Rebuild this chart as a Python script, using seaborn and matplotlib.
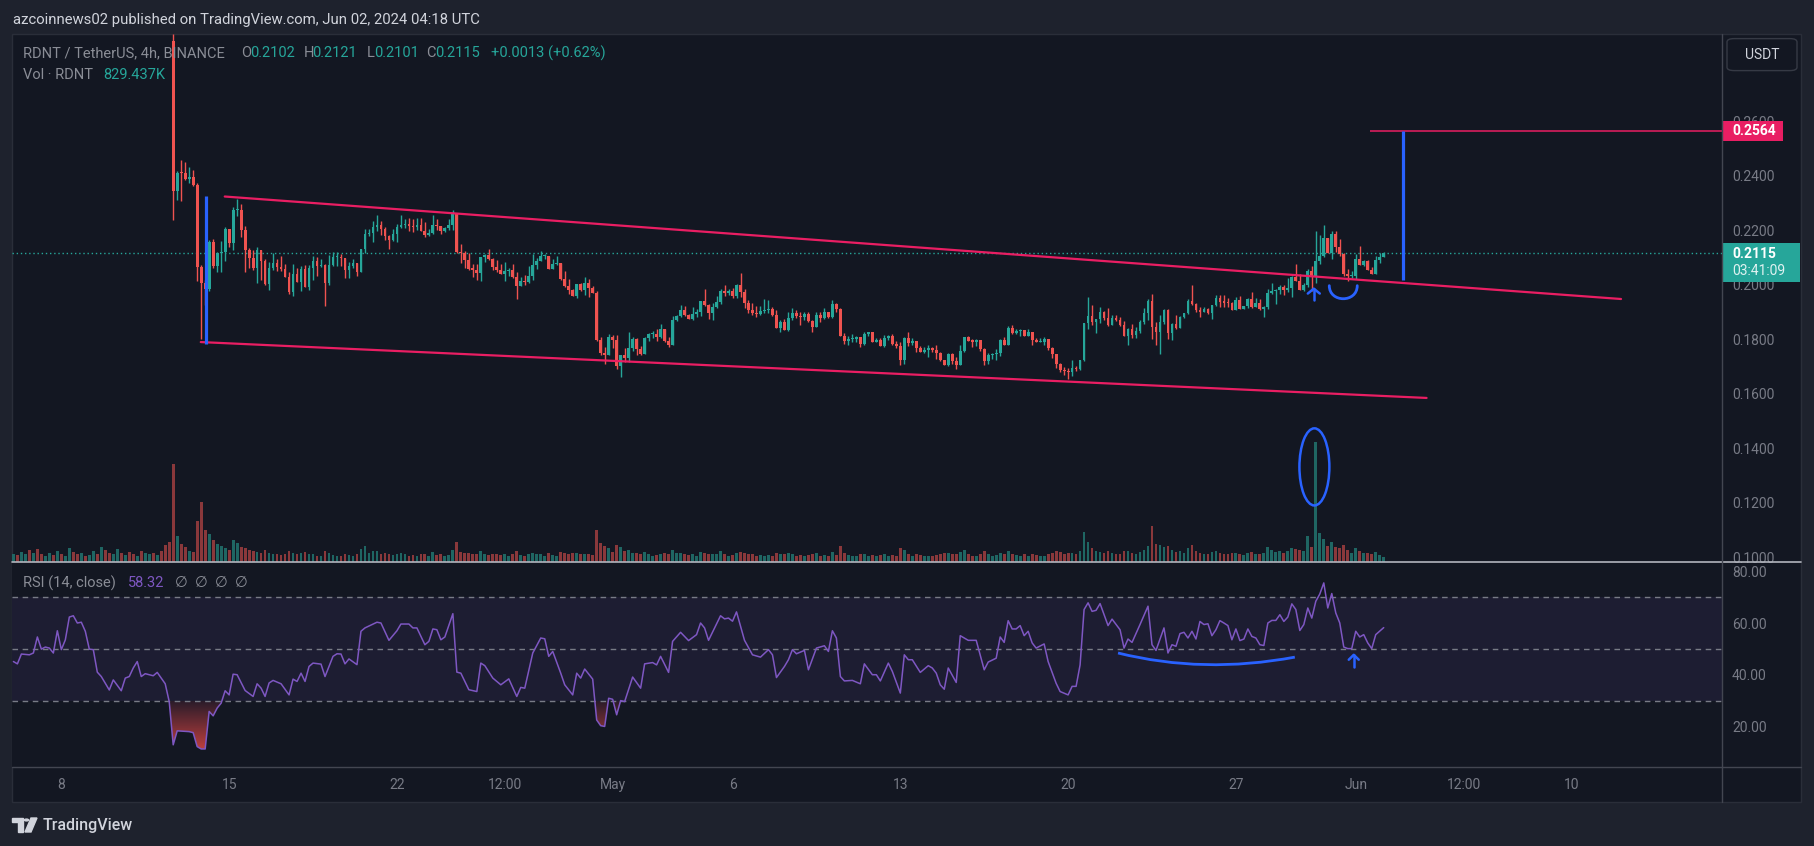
import numpy as np
import pandas as pd
import seaborn as sns
import matplotlib.pyplot as plt
from matplotlib.lines import Line2D
from matplotlib.patches import Rectangle, FancyBboxPatch, Ellipse, PathPatch, Polygon, Circle
from matplotlib.path import Path
from matplotlib.transforms import blended_transform_factory
from matplotlib.colors import LinearSegmentedColormap

# ---------------- data (RDNT/USDT 4h, Binance) ----------------
# time = hours since 2024-04-06 00:00 UTC, one bar every 4h
t_first = 160          # Apr 12 16:00, first bar inside the price range
first_open = 0.2895

close = [
    0.2345, 0.2411, 0.2409, 0.2388, 0.2394, 0.2366, 0.2066, 0.2007, 0.1984, 0.2157,
    0.2068, 0.2115, 0.2120, 0.2204, 0.2153, 0.2274, 0.2274, 0.2201, 0.2127, 0.2099,
    0.2060, 0.2127, 0.2088, 0.2003, 0.2062, 0.2079, 0.2066, 0.2057, 0.2029, 0.1973,
    0.2041, 0.2012, 0.2057, 0.1992, 0.2061, 0.2087, 0.2068, 0.2072, 0.2007, 0.2072,
    0.2101, 0.2101, 0.2098, 0.2054, 0.2068, 0.2079, 0.2048, 0.2131, 0.2186, 0.2189,
    0.2212, 0.2219, 0.2204, 0.2178, 0.2164, 0.2186, 0.2212, 0.2219, 0.2223, 0.2215,
    0.2212, 0.2218, 0.2197, 0.2182, 0.2189, 0.2219, 0.2215, 0.2197, 0.2208, 0.2219,
    0.2262, 0.2120, 0.2115, 0.2090, 0.2057, 0.2056, 0.2043, 0.2101, 0.2109, 0.2094,
    0.2065, 0.2054, 0.2040, 0.2050, 0.2054, 0.2028, 0.1995, 0.2013, 0.2011, 0.2032,
    0.2072, 0.2087, 0.2105, 0.2106, 0.2057, 0.2076, 0.2079, 0.2021, 0.1995, 0.1980,
    0.1958, 0.2002, 0.1980, 0.2006, 0.1988, 0.1969, 0.1797, 0.1750, 0.1742, 0.1808,
    0.1797, 0.1701, 0.1742, 0.1731, 0.1767, 0.1800, 0.1764, 0.1745, 0.1804, 0.1819,
    0.1819, 0.1808, 0.1837, 0.1793, 0.1778, 0.1870, 0.1885, 0.1907, 0.1888, 0.1874,
    0.1892, 0.1899, 0.1940, 0.1925, 0.1896, 0.1918, 0.1936, 0.1977, 0.1969, 0.1977,
    0.1958, 0.1999, 0.1973, 0.1932, 0.1907, 0.1896, 0.1892, 0.1903, 0.1907, 0.1912,
    0.1890, 0.1843, 0.1863, 0.1833, 0.1877, 0.1896, 0.1885, 0.1881, 0.1892, 0.1866,
    0.1844, 0.1888, 0.1877, 0.1899, 0.1881, 0.1929, 0.1910, 0.1811, 0.1793, 0.1800,
    0.1801, 0.1808, 0.1782, 0.1819, 0.1826, 0.1789, 0.1797, 0.1775, 0.1804, 0.1811,
    0.1782, 0.1775, 0.1723, 0.1804, 0.1786, 0.1793, 0.1767, 0.1753, 0.1760, 0.1767,
    0.1760, 0.1749, 0.1723, 0.1705, 0.1745, 0.1719, 0.1705, 0.1756, 0.1808, 0.1793,
    0.1792, 0.1797, 0.1764, 0.1719, 0.1742, 0.1745, 0.1749, 0.1797, 0.1778, 0.1841,
    0.1822, 0.1830, 0.1833, 0.1811, 0.1826, 0.1797, 0.1789, 0.1789, 0.1800, 0.1767,
    0.1745, 0.1709, 0.1686, 0.1683, 0.1679, 0.1694, 0.1690, 0.1723, 0.1859, 0.1885,
    0.1863, 0.1874, 0.1900, 0.1877, 0.1852, 0.1877, 0.1870, 0.1852, 0.1811, 0.1837,
    0.1815, 0.1830, 0.1863, 0.1896, 0.1940, 0.1844, 0.1826, 0.1863, 0.1907, 0.1822,
    0.1855, 0.1841, 0.1881, 0.1896, 0.1940, 0.1929, 0.1907, 0.1900, 0.1911, 0.1896,
    0.1925, 0.1951, 0.1936, 0.1935, 0.1933, 0.1907, 0.1944, 0.1911, 0.1922, 0.1947,
    0.1918, 0.1933, 0.1911, 0.1918, 0.1969, 0.1977, 0.1980, 0.1991, 0.1980, 0.1988,
    0.2028, 0.2013, 0.1980, 0.1999, 0.2050, 0.2028, 0.2087, 0.2105, 0.2171, 0.2116,
    0.2186, 0.2138, 0.2113, 0.2039, 0.2032, 0.2032, 0.2094, 0.2072, 0.2087, 0.2054,
    0.2039, 0.2091, 0.2102, 0.2115]

high = [
    0.2920, 0.2418, 0.2458, 0.2450, 0.2431, 0.2421, 0.2373, 0.2072, 0.2019, 0.2164,
    0.2167, 0.2120, 0.2160, 0.2212, 0.2200, 0.2286, 0.2314, 0.2296, 0.2215, 0.2136,
    0.2127, 0.2138, 0.2127, 0.2093, 0.2083, 0.2116, 0.2094, 0.2105, 0.2078, 0.2048,
    0.2076, 0.2061, 0.2068, 0.2071, 0.2071, 0.2105, 0.2101, 0.2094, 0.2078, 0.2111,
    0.2120, 0.2120, 0.2112, 0.2098, 0.2083, 0.2094, 0.2079, 0.2131, 0.2204, 0.2204,
    0.2234, 0.2256, 0.2234, 0.2212, 0.2182, 0.2204, 0.2223, 0.2256, 0.2241, 0.2244,
    0.2241, 0.2244, 0.2244, 0.2230, 0.2204, 0.2256, 0.2241, 0.2215, 0.2212, 0.2241,
    0.2274, 0.2262, 0.2149, 0.2123, 0.2115, 0.2078, 0.2078, 0.2101, 0.2112, 0.2131,
    0.2098, 0.2090, 0.2076, 0.2083, 0.2061, 0.2076, 0.2046, 0.2028, 0.2035, 0.2068,
    0.2112, 0.2098, 0.2123, 0.2112, 0.2105, 0.2094, 0.2105, 0.2078, 0.2050, 0.2021,
    0.1984, 0.2002, 0.2006, 0.2028, 0.2021, 0.1995, 0.1977, 0.1808, 0.1771, 0.1819,
    0.1815, 0.1815, 0.1742, 0.1767, 0.1826, 0.1808, 0.1804, 0.1774, 0.1808, 0.1822,
    0.1830, 0.1837, 0.1855, 0.1837, 0.1808, 0.1885, 0.1888, 0.1925, 0.1921, 0.1892,
    0.1918, 0.1910, 0.1940, 0.1984, 0.1929, 0.1932, 0.1958, 0.1984, 0.1999, 0.1984,
    0.1988, 0.2002, 0.2043, 0.1984, 0.1943, 0.1932, 0.1921, 0.1921, 0.1947, 0.1944,
    0.1917, 0.1907, 0.1870, 0.1874, 0.1899, 0.1914, 0.1907, 0.1899, 0.1899, 0.1899,
    0.1870, 0.1899, 0.1899, 0.1914, 0.1899, 0.1944, 0.1932, 0.1914, 0.1822, 0.1811,
    0.1819, 0.1811, 0.1808, 0.1826, 0.1826, 0.1826, 0.1804, 0.1804, 0.1815, 0.1815,
    0.1819, 0.1793, 0.1789, 0.1808, 0.1826, 0.1804, 0.1793, 0.1775, 0.1771, 0.1778,
    0.1771, 0.1778, 0.1753, 0.1723, 0.1749, 0.1749, 0.1734, 0.1778, 0.1808, 0.1811,
    0.1800, 0.1800, 0.1797, 0.1767, 0.1749, 0.1749, 0.1764, 0.1800, 0.1808, 0.1848,
    0.1852, 0.1837, 0.1837, 0.1833, 0.1837, 0.1826, 0.1804, 0.1804, 0.1808, 0.1800,
    0.1771, 0.1745, 0.1712, 0.1697, 0.1694, 0.1723, 0.1701, 0.1723, 0.1859, 0.1955,
    0.1925, 0.1874, 0.1918, 0.1903, 0.1914, 0.1888, 0.1888, 0.1881, 0.1866, 0.1841,
    0.1855, 0.1844, 0.1870, 0.1914, 0.1947, 0.1966, 0.1863, 0.1888, 0.1911, 0.1911,
    0.1859, 0.1888, 0.1885, 0.1896, 0.1947, 0.1999, 0.1933, 0.1918, 0.1918, 0.1914,
    0.1925, 0.1962, 0.1962, 0.1962, 0.1951, 0.1936, 0.1955, 0.1958, 0.1922, 0.1951,
    0.1973, 0.1951, 0.1947, 0.1922, 0.1984, 0.2006, 0.1984, 0.1999, 0.1999, 0.2024,
    0.2032, 0.2076, 0.2039, 0.2006, 0.2057, 0.2068, 0.2197, 0.2182, 0.2219, 0.2171,
    0.2197, 0.2197, 0.2168, 0.2116, 0.2057, 0.2050, 0.2112, 0.2142, 0.2091, 0.2091,
    0.2065, 0.2105, 0.2116, 0.2121]

low = [
    0.2237, 0.2311, 0.2308, 0.2384, 0.2372, 0.2362, 0.2014, 0.1800, 0.1925, 0.1978,
    0.2061, 0.2048, 0.2048, 0.2087, 0.2139, 0.2127, 0.2253, 0.2176, 0.2048, 0.2062,
    0.2054, 0.2007, 0.2017, 0.2000, 0.1980, 0.2054, 0.2051, 0.2051, 0.2027, 0.1966,
    0.1958, 0.2010, 0.1978, 0.1992, 0.1980, 0.2017, 0.2032, 0.2066, 0.1922, 0.2000,
    0.2070, 0.2070, 0.2068, 0.2025, 0.2025, 0.2063, 0.2032, 0.2048, 0.2115, 0.2178,
    0.2157, 0.2197, 0.2182, 0.2164, 0.2131, 0.2160, 0.2157, 0.2208, 0.2208, 0.2197,
    0.2193, 0.2201, 0.2197, 0.2174, 0.2178, 0.2186, 0.2201, 0.2186, 0.2194, 0.2201,
    0.2201, 0.2115, 0.2080, 0.2063, 0.2054, 0.2029, 0.2017, 0.2013, 0.2083, 0.2090,
    0.2054, 0.2046, 0.2038, 0.2013, 0.2032, 0.2025, 0.1947, 0.1995, 0.2000, 0.2007,
    0.2017, 0.2057, 0.2087, 0.2094, 0.2057, 0.2057, 0.2072, 0.2017, 0.1991, 0.1966,
    0.1958, 0.1951, 0.1977, 0.1962, 0.1955, 0.1969, 0.1793, 0.1742, 0.1708, 0.1742,
    0.1767, 0.1690, 0.1661, 0.1716, 0.1716, 0.1756, 0.1742, 0.1742, 0.1745, 0.1793,
    0.1804, 0.1793, 0.1804, 0.1789, 0.1771, 0.1778, 0.1866, 0.1881, 0.1885, 0.1874,
    0.1870, 0.1881, 0.1885, 0.1921, 0.1874, 0.1870, 0.1914, 0.1929, 0.1958, 0.1962,
    0.1951, 0.1951, 0.1955, 0.1914, 0.1896, 0.1888, 0.1881, 0.1888, 0.1896, 0.1895,
    0.1886, 0.1841, 0.1826, 0.1833, 0.1830, 0.1870, 0.1877, 0.1852, 0.1870, 0.1863,
    0.1826, 0.1844, 0.1863, 0.1874, 0.1877, 0.1877, 0.1899, 0.1811, 0.1782, 0.1778,
    0.1789, 0.1789, 0.1771, 0.1778, 0.1811, 0.1789, 0.1789, 0.1775, 0.1771, 0.1797,
    0.1778, 0.1767, 0.1705, 0.1709, 0.1775, 0.1778, 0.1753, 0.1753, 0.1749, 0.1734,
    0.1753, 0.1727, 0.1719, 0.1705, 0.1701, 0.1709, 0.1690, 0.1705, 0.1753, 0.1793,
    0.1771, 0.1775, 0.1756, 0.1705, 0.1709, 0.1727, 0.1723, 0.1738, 0.1778, 0.1778,
    0.1819, 0.1819, 0.1811, 0.1811, 0.1811, 0.1778, 0.1789, 0.1789, 0.1778, 0.1760,
    0.1731, 0.1694, 0.1679, 0.1668, 0.1653, 0.1664, 0.1683, 0.1686, 0.1720, 0.1837,
    0.1852, 0.1822, 0.1859, 0.1870, 0.1848, 0.1855, 0.1866, 0.1848, 0.1811, 0.1778,
    0.1804, 0.1804, 0.1822, 0.1855, 0.1870, 0.1800, 0.1778, 0.1745, 0.1855, 0.1800,
    0.1797, 0.1837, 0.1841, 0.1877, 0.1892, 0.1925, 0.1900, 0.1881, 0.1900, 0.1892,
    0.1874, 0.1922, 0.1918, 0.1918, 0.1918, 0.1907, 0.1907, 0.1911, 0.1911, 0.1914,
    0.1914, 0.1918, 0.1907, 0.1881, 0.1911, 0.1966, 0.1929, 0.1966, 0.1962, 0.1973,
    0.1955, 0.2013, 0.1980, 0.1977, 0.1991, 0.1977, 0.2006, 0.2076, 0.2102, 0.2116,
    0.2094, 0.2120, 0.2105, 0.2032, 0.2013, 0.2024, 0.2021, 0.2072, 0.2068, 0.2054,
    0.2039, 0.2039, 0.2079, 0.2101]

# volume in thousand RDNT; the first 40 bars are still above the visible price range
vol_pre = [
    1300, 1100, 1600, 1200, 1900, 1400, 2100, 1200, 1000, 1500,
    1100, 1800, 1300, 1000, 2300, 1600, 1200, 1400, 1000, 1100,
    1700, 1300, 2500, 1900, 1500, 1200, 2100, 1400, 1100, 1600,
    1300, 1000, 1800, 1500, 1200, 1400, 1100, 1700, 2700, 3200]
pre_up = [1, 0, 1, 1, 0, 1, 0, 0, 1, 1, 0, 1, 0, 1, 1, 0, 0, 1, 0, 1,
          1, 0, 1, 0, 0, 1, 1, 0, 1, 0, 0, 1, 0, 1, 1, 0, 1, 0, 0, 0]
vol = [
    16200, 4200, 3000, 2400, 1800, 1600, 6800, 10000, 5200, 4600,
    3600, 2900, 2600, 2300, 2000, 3600, 3100, 2500, 2200, 1900,
    1700, 1600, 1500, 1900, 1400, 1300, 1200, 1100, 1300, 1800,
    1500, 1200, 1400, 1600, 1300, 1200, 1000, 900, 1700, 1400,
    1100, 900, 1000, 1300, 1100, 1000, 1200, 2100, 2600, 1500,
    1700, 1800, 1300, 1400, 1200, 1100, 1300, 1500, 1200, 1000,
    1100, 900, 1200, 1300, 1000, 1600, 1100, 1200, 900, 1100,
    2000, 3300, 1600, 1400, 1500, 1200, 1300, 1800, 1200, 1100,
    1300, 1200, 1100, 1300, 1000, 1200, 1800, 1100, 1000, 1200,
    1500, 1200, 1300, 1000, 1400, 1100, 1000, 1600, 1400, 1300,
    1500, 1400, 1200, 1300, 1200, 1100, 5200, 3100, 2600, 2200,
    1600, 2800, 2400, 1700, 2000, 1500, 1400, 1300, 1600, 1200,
    1000, 1100, 1300, 1400, 1200, 2000, 1400, 1500, 1200, 1100,
    1200, 1000, 1600, 1500, 1300, 1200, 1300, 1700, 1200, 1000,
    1100, 1400, 1600, 1500, 1300, 1200, 1000, 1100, 1000, 1100,
    1000, 1400, 1200, 1300, 1400, 1200, 1000, 1100, 1000, 1100,
    1300, 1400, 1000, 1100, 900, 1600, 1100, 2600, 1500, 1100,
    900, 1000, 1200, 1300, 1000, 1100, 900, 1100, 1200, 900,
    1100, 1000, 2200, 1900, 1300, 1000, 1200, 1100, 900, 1000,
    900, 1100, 1300, 1400, 1500, 1200, 1300, 1600, 1900, 1200,
    1000, 900, 1200, 1700, 1300, 1000, 1100, 1500, 1200, 1800,
    1300, 1100, 1000, 1200, 1000, 1300, 1100, 900, 1000, 1200,
    1400, 1700, 1600, 1300, 1500, 1400, 1200, 1800, 5000, 3200,
    2200, 1800, 1600, 1500, 1700, 1400, 1200, 1300, 1800, 1700,
    1500, 1300, 1600, 1900, 2600, 6000, 3000, 2800, 2400, 2600,
    2000, 1600, 1800, 1500, 2200, 2800, 1700, 1500, 1300, 1200,
    1600, 1800, 1500, 1300, 1200, 1400, 1500, 1300, 1100, 1400,
    1600, 1300, 1200, 1500, 2400, 1900, 1600, 1700, 1400, 1800,
    2300, 2100, 1900, 1700, 4200, 2500, 20000, 4800, 3800, 2600,
    3200, 2400, 2200, 2800, 2000, 1500, 2200, 1800, 1400, 1500,
    1300, 1600, 1100, 830]

rsi_t = [
    0, 4, 8, 16, 20, 24, 28, 32, 36, 40,
    44, 48, 52, 56, 60, 64, 68, 72, 76, 80,
    84, 88, 96, 100, 108, 112, 116, 120, 124, 128,
    132, 136, 140, 144, 148, 152, 156, 160, 164, 176,
    180, 184, 188, 192, 196, 200, 204, 208, 212, 216,
    220, 224, 232, 240, 244, 248, 252, 256, 260, 268,
    276, 280, 284, 288, 292, 296, 300, 308, 312, 320,
    324, 328, 332, 336, 344, 348, 352, 364, 368, 376,
    384, 388, 396, 400, 404, 412, 416, 420, 424, 428,
    432, 440, 444, 448, 456, 464, 468, 472, 480, 488,
    496, 504, 508, 512, 520, 528, 532, 536, 540, 548,
    552, 560, 564, 568, 572, 580, 584, 588, 592, 596,
    600, 604, 608, 612, 620, 628, 632, 640, 644, 648,
    656, 660, 668, 676, 684, 688, 692, 696, 708, 712,
    716, 720, 724, 732, 740, 748, 756, 760, 764, 772,
    776, 780, 784, 792, 796, 804, 812, 816, 820, 824,
    828, 832, 840, 848, 852, 860, 864, 868, 876, 880,
    888, 892, 896, 900, 908, 916, 920, 924, 928, 932,
    936, 944, 948, 956, 964, 972, 976, 984, 988, 992,
    996, 1000, 1004, 1008, 1012, 1016, 1020, 1024, 1032, 1036,
    1044, 1048, 1056, 1060, 1064, 1068, 1072, 1076, 1080, 1084,
    1088, 1096, 1100, 1108, 1112, 1116, 1120, 1128, 1136, 1140,
    1144, 1152, 1156, 1160, 1164, 1168, 1172, 1176, 1180, 1184,
    1188, 1192, 1196, 1200, 1204, 1208, 1212, 1216, 1220, 1224,
    1228, 1232, 1236, 1240, 1244, 1248, 1252, 1256, 1260, 1264,
    1268, 1272, 1276, 1280, 1284, 1288, 1292, 1296, 1300, 1304,
    1308, 1312, 1316, 1320, 1324, 1328, 1332, 1336, 1340, 1344,
    1348, 1352, 1356, 1360, 1364, 1372]
rsi_v = [
    45.2, 44.3, 48.1, 47.8, 48.5, 54.7, 50.0, 50.8, 50.4, 48.5,
    57.1, 49.8, 53.6, 62.4, 62.9, 60.1, 60.4, 56.9, 50.0, 49.8,
    41.1, 39.4, 34.2, 38.1, 33.9, 38.8, 39.4, 42.7, 45.2, 39.4,
    40.5, 40.1, 39.7, 41.0, 38.8, 36.6, 29.7, 13.0, 18.4, 18.1,
    17.7, 12.3, 11.4, 11.4, 25.9, 24.2, 27.2, 29.1, 33.9, 32.3,
    40.3, 40.1, 34.0, 31.7, 36.6, 34.9, 31.7, 36.9, 37.9, 36.6,
    32.3, 38.4, 37.5, 40.7, 37.5, 43.3, 44.6, 44.2, 39.4, 47.2,
    48.2, 48.1, 44.3, 46.2, 44.0, 56.9, 58.2, 60.4, 60.1, 53.4,
    57.1, 59.7, 59.7, 58.2, 58.2, 51.7, 53.0, 57.8, 57.5, 53.6,
    54.7, 63.7, 41.1, 40.7, 34.3, 33.6, 44.6, 43.6, 38.8, 36.2,
    38.5, 31.7, 35.2, 34.9, 48.5, 54.3, 54.0, 47.2, 49.1, 40.7,
    36.2, 32.3, 40.7, 38.8, 42.3, 38.4, 22.6, 20.4, 20.1, 31.0,
    30.6, 24.6, 30.1, 29.7, 39.2, 34.9, 44.3, 44.8, 43.9, 47.2,
    41.0, 53.0, 56.5, 53.3, 55.6, 60.1, 58.2, 53.4, 62.9, 61.7,
    62.0, 60.8, 64.4, 53.4, 47.8, 46.9, 49.8, 47.8, 39.0, 43.3,
    45.9, 49.8, 48.2, 49.5, 42.0, 50.4, 51.3, 49.1, 57.1, 54.3,
    39.4, 37.7, 37.9, 36.6, 44.3, 40.1, 40.1, 37.7, 44.6, 41.4,
    33.0, 47.8, 45.9, 45.9, 41.0, 43.6, 42.7, 40.7, 36.2, 34.5,
    42.7, 37.1, 55.2, 53.4, 53.4, 42.0, 45.0, 46.5, 54.7, 52.6,
    61.0, 57.8, 57.8, 59.1, 55.2, 56.9, 52.4, 50.4, 52.0, 45.2,
    36.8, 33.6, 32.3, 35.6, 35.6, 43.9, 65.3, 67.9, 64.6, 65.0,
    67.6, 59.1, 61.6, 57.5, 50.4, 53.9, 52.6, 59.5, 66.6, 51.7,
    49.5, 58.2, 48.5, 51.7, 51.1, 56.0, 56.5, 54.3, 56.9, 53.9,
    60.7, 59.5, 59.8, 55.2, 57.5, 61.0, 60.1, 59.1, 53.6, 57.8,
    53.3, 53.9, 57.8, 54.9, 54.3, 51.7, 51.4, 60.1, 61.1, 61.1,
    63.3, 60.7, 62.4, 67.5, 65.3, 57.2, 59.5, 65.9, 62.0, 68.5,
    71.3, 75.6, 65.9, 71.5, 64.0, 60.1, 50.8, 50.2, 50.2, 56.9,
    54.7, 55.6, 52.4, 50.2, 55.6, 58.32]

tick_t = [48, 216, 384, 492, 600, 720, 888, 1056, 1224, 1344, 1452, 1560]
tick_lab = ['8', '15', '22', '12:00', 'May', '6', '13', '20', '27', 'Jun', '12:00', '10']
price_ticks = [0.10, 0.12, 0.14, 0.16, 0.18, 0.20, 0.22, 0.24, 0.26]
rsi_ticks = [20, 40, 60, 80]

# drawings on the chart (time in hours, price in USDT)
upper_t, upper_p = [211.6, 1609.6], [0.2324, 0.1948]
lower_t, lower_p = [187.6, 1414.9], [0.1790, 0.1585]
pole1_t, pole1_p = 193, [0.1784, 0.2326]
pole2_t, pole2_p = 1391, [0.2017, 0.2564]
target_p, target_t0 = 0.2564, 1358
last_p = 0.2115

# ---------------- style ----------------
BG = '#131722'
OUT = '#1e222d'
UP = '#26a69a'
DN = '#ef5350'
PINK = '#e91e63'
BLUE = '#2962ff'
TXT = '#787b86'
W, H = 1815, 846
XMIN, XMAX = -0.9, 1710.7

sns.set_theme(style='dark')
plt.rcParams['font.family'] = ['Roboto', 'DejaVu Sans']

fig = plt.figure(figsize=(W / 100, H / 100), dpi=100, facecolor=OUT)


def pbox(x0, y0, x1, y1):
    return [x0 / W, 1 - y1 / H, (x1 - x0) / W, (y1 - y0) / H]


def ftext(x, y, s, **kw):
    fig.text(x / W, 1 - y / H, s, va='center', **kw)


def fline(xs, ys, color, lw=1.0):
    fig.add_artist(Line2D([x / W for x in xs], [1 - y / H for y in ys],
                          color=color, lw=lw, zorder=20))


fig.add_artist(Rectangle((12 / W, 1 - 802 / H), (1801 - 12) / W, (802 - 34) / H,
                         transform=fig.transFigure, facecolor=BG,
                         edgecolor='#2a2e39', lw=1, zorder=-5))

ax = fig.add_axes(pbox(12.5, 34, 1722, 561.5))
axv = ax.twinx()
ax.set_zorder(2)
axv.set_zorder(1)
ax.patch.set_visible(False)
axv.patch.set_facecolor(BG)
axr = fig.add_axes(pbox(12.5, 561.5, 1722, 767))
axr.set_facecolor(BG)

# candles
df = pd.DataFrame({'t': t_first + 4 * np.arange(len(close)),
                   'close': close, 'high': high, 'low': low})
df['open'] = df['close'].shift(1).fillna(first_open)
df['up'] = df['close'] >= df['open']
df['high'] = df[['high', 'open', 'close']].max(axis=1)
df['low'] = df[['low', 'open', 'close']].min(axis=1)
ccol = np.where(df['up'], UP, DN)
ax.vlines(df['t'], df['low'], df['high'], colors=ccol, lw=1.0, zorder=3)
body_lo = df[['open', 'close']].min(axis=1)
body_h = (df['close'] - df['open']).abs().clip(lower=0.0004)
ax.bar(df['t'], body_h, bottom=body_lo, width=2.8, color=ccol, lw=0, zorder=4)

# volume
vt = 4 * np.arange(len(vol_pre) + len(vol))
vup = [bool(u) for u in pre_up] + list(df['up'])
vcol = np.where(vup, '#1f6663', '#8a383b')
axv.bar(vt, vol_pre + vol, width=2.8, color=vcol, lw=0)
axv.set_ylim(0, 527.5 / 0.006)

# last price line and target
ax.axhline(last_p, color=UP, lw=1, ls=(0, (1, 2)), zorder=2)
ax.hlines(target_p, target_t0, XMAX, color=PINK, lw=1.1, zorder=5)

# channel + poles
sns.lineplot(x=upper_t, y=upper_p, ax=ax, color=PINK, lw=1.6, zorder=5)
sns.lineplot(x=lower_t, y=lower_p, ax=ax, color=PINK, lw=1.6, zorder=5)
ax.vlines(pole1_t, *pole1_p, color=BLUE, lw=2.3, zorder=6)
ax.vlines(pole2_t, *pole2_p, color=BLUE, lw=2.3, zorder=6)

# hand drawn marks
ax.plot([1296, 1302, 1308], [0.1968, 0.1986, 0.1968], color=BLUE, lw=1.8, zorder=6,
        solid_capstyle='round')
ax.plot([1302, 1302], [0.1986, 0.1946], color=BLUE, lw=1.8, zorder=6)
smile = Path([(1317.5, 0.1997), (1317.5, 0.1933), (1345.5, 0.1933), (1345.5, 0.1997)],
             [Path.MOVETO, Path.CURVE4, Path.CURVE4, Path.CURVE4])
ax.add_patch(PathPatch(smile, facecolor='none', edgecolor=BLUE, lw=2.0, zorder=6,
                       capstyle='round'))
ax.add_patch(Ellipse((1302.6, 0.1332), 30, 0.0283, fill=False, edgecolor=BLUE,
                     lw=1.8, zorder=6))

ax.set_xlim(XMIN, XMAX)
ax.set_ylim(0.09849, 0.29203)
ax.set_yticks(price_ticks)
ax.set_yticklabels([f'{v:.4f}' for v in price_ticks])
ax.tick_params(axis='y', left=False, right=False, labelleft=False, labelright=True,
               length=0, pad=7.2, labelsize=10, colors=TXT)
ax.tick_params(axis='x', bottom=False, labelbottom=False)
axv.set_yticks([])
for a in (ax, axv, axr):
    for s in a.spines.values():
        s.set_visible(False)
    a.grid(False)
ax.set_xlabel('')
ax.set_ylabel('')

# price labels on the scale
bl = blended_transform_factory(ax.transAxes, ax.transData)
ax.add_patch(Rectangle((1.0, target_p - 0.0038), 0.0357, 0.0076, transform=bl,
                       facecolor=PINK, lw=0, clip_on=False, zorder=10))
ax.text(1.0059, target_p, f'{target_p:.4f}', transform=bl, color='white', size=10,
        weight='bold', va='center', clip_on=False, zorder=11)
ax.add_patch(Rectangle((1.0, 0.20118), 0.0456, 0.01417, transform=bl,
                       facecolor=UP, lw=0, clip_on=False, zorder=10))
ax.text(1.0059, 0.21131, f'{last_p:.4f}', transform=bl, color='white', size=10,
        weight='bold', va='center', clip_on=False, zorder=11)
ax.text(1.0059, 0.20499, '03:41:09', transform=bl, color='#e0f2f1', size=10,
        va='center', clip_on=False, zorder=11)

# RSI pane
rt = np.array(rsi_t, float)
rv = np.array(rsi_v, float)
axr.axhspan(30, 70, color='#7e57c2', alpha=0.1, lw=0)
for lvl in (70, 50, 30):
    axr.axhline(lvl, color=TXT, lw=1, ls=(0, (4, 3.3)))
fb = axr.fill_between(rt, rv, 30, where=rv < 30, interpolate=True,
                      facecolor='none', edgecolor='none')
clip = PathPatch(Path.make_compound_path(*fb.get_paths()), transform=axr.transData,
                 facecolor='none', edgecolor='none')
axr.add_patch(clip)
grad = np.linspace(0, 1, 100).reshape(-1, 1)
cmap = LinearSegmentedColormap.from_list('os', ['#c8423f', '#2b1c2a'])
im = axr.imshow(grad, extent=[XMIN, XMAX, 10, 30], origin='lower', aspect='auto',
                cmap=cmap, zorder=1)
im.set_clip_path(clip)
sns.lineplot(x=rt, y=rv, ax=axr, color='#7e57c2', lw=1.1, zorder=3)

# notes in RSI pane
qp = Path([(1106, 48.5), (1191.5, 40.3), (1283, 46.9)], [Path.MOVETO, Path.CURVE3, Path.CURVE3])
axr.add_patch(PathPatch(qp, facecolor='none', edgecolor=BLUE, lw=2.0, zorder=5))
axr.plot([1337, 1342, 1347], [45.9, 47.8, 45.9], color=BLUE, lw=1.8, zorder=5)
axr.plot([1342, 1342], [47.8, 43.2], color=BLUE, lw=1.8, zorder=5)

axr.set_xlim(XMIN, XMAX)
axr.set_ylim(4.42, 83.88)
axr.yaxis.tick_right()
axr.set_yticks(rsi_ticks)
axr.set_yticklabels([f'{v:.2f}' for v in rsi_ticks])
axr.set_xticks(tick_t)
axr.set_xticklabels(tick_lab)
axr.tick_params(axis='y', length=0, pad=7.2, labelsize=10, colors=TXT)
axr.tick_params(axis='x', length=0, pad=8, labelsize=10, colors=TXT)
axr.set_xlabel('')
axr.set_ylabel('')

# frame lines
fline([12, 1801], [561.5, 561.5], '#b2b5be', 1.2)
fline([12, 1801], [767, 767], '#434651', 1.0)
fline([1722, 1722], [34, 802], '#434651', 1.0)

# header and legends
ftext(13, 20, 'azcoinnews02 published on TradingView.com, Jun 02, 2024 04:18 UTC',
      color='#d1d4dc', size=10.7)
LG = '#8a8d96'
ftext(23, 53, 'RDNT / TetherUS, 4h, BINANCE', color=LG, size=10.5)
for lab, x, val, xv in [('O', 241, '0.2102', 250), ('H', 303.6, '0.2121', 312.5),
                        ('L', 367, '0.2101', 374), ('C', 426, '0.2115', 435)]:
    ftext(x, 53, lab, color=LG, size=10.5)
    ftext(xv, 53, val, color=UP, size=10.5)
ftext(491, 53, '+0.0013 (+0.62%)', color=UP, size=10.5)
ftext(23, 75, 'Vol · RDNT', color=LG, size=10.5)
ftext(103.6, 75, '829.437K', color=UP, size=10.5)

ftext(23, 583, 'RSI (14, close)', color=LG, size=10.5)
ftext(128, 583, '58.32', color='#7e57c2', size=10.5)
for x in (175, 195, 215, 235):
    ftext(x, 583, '∅', color=LG, size=10.5)

# currency button
fig.add_artist(FancyBboxPatch((1727 / W, 1 - 70.6 / H), 70 / W, 32 / H,
                              boxstyle='round,pad=0,rounding_size=0.004',
                              transform=fig.transFigure, facecolor=BG,
                              edgecolor='#363a45', lw=1, zorder=21))
fig.text(1762 / W, 1 - 55 / H, 'USDT', color='#d1d4dc', size=10, ha='center',
         va='center', zorder=22)

# footer logo
fig.add_artist(Polygon([(12 / W, 1 - 818 / H), (23 / W, 1 - 818 / H), (23 / W, 1 - 832 / H),
                        (18 / W, 1 - 832 / H), (18 / W, 1 - 822 / H), (12 / W, 1 - 822 / H)],
                       closed=True, transform=fig.transFigure, color='#d1d4dc', zorder=21))
fig.add_artist(Circle((26.5 / W, 1 - 820 / H), 2.0 / W, transform=fig.transFigure,
                      color='#d1d4dc', zorder=21))
fig.add_artist(Polygon([(31 / W, 1 - 818 / H), (37 / W, 1 - 818 / H), (31 / W, 1 - 832 / H),
                        (25 / W, 1 - 832 / H)], closed=True, transform=fig.transFigure,
                       color='#d1d4dc', zorder=21))
ftext(43, 825, 'TradingView', color='#d1d4dc', size=11.5, weight='medium')

fig.savefig('out.png', dpi=100, facecolor=OUT)
